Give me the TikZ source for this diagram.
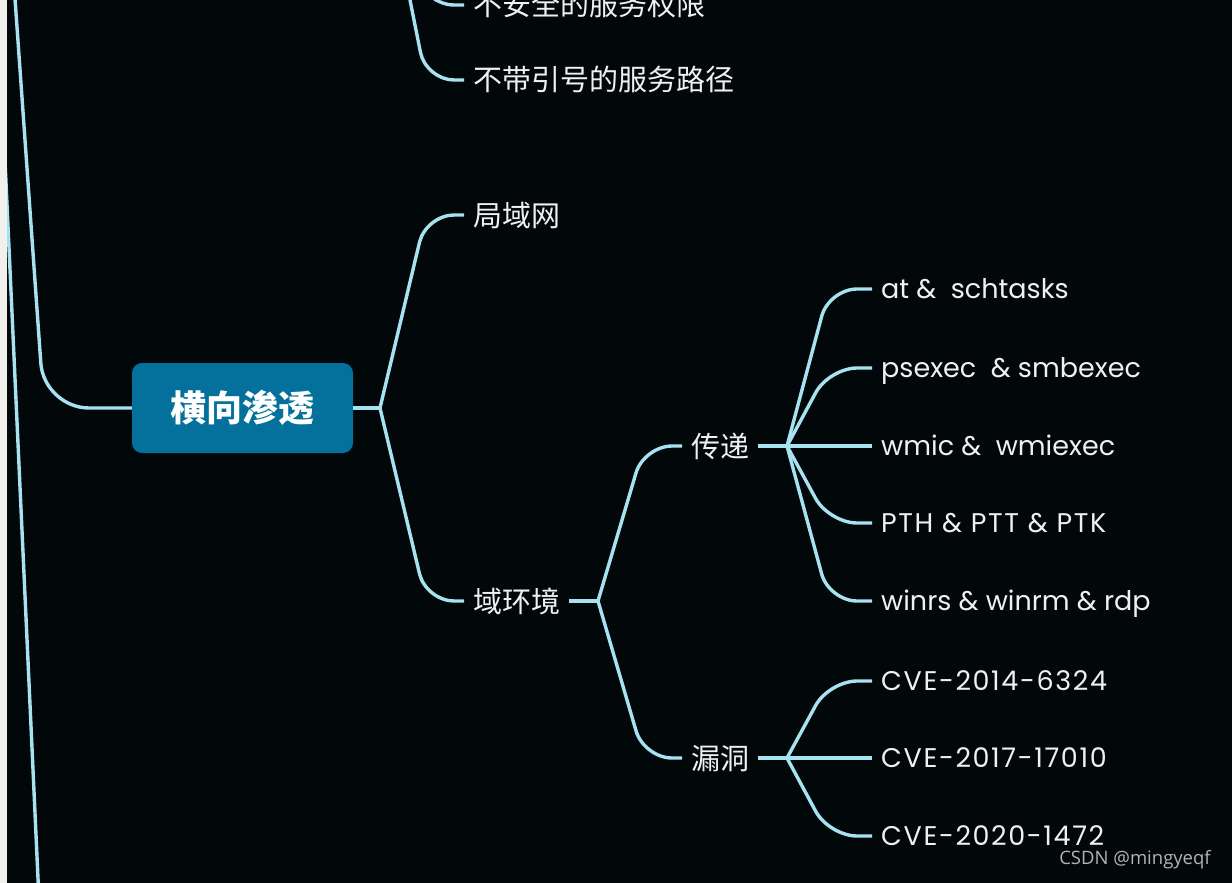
\documentclass[tikz,border=0pt]{standalone}
\usepackage{fontspec}
\setmainfont{Poppins}
\newfontfamily\capsfont[LetterSpace=6]{Poppins}
\newfontfamily\cjk{Noto Sans CJK SC}
\newfontfamily\wmfont{Open Sans}
\usetikzlibrary{calc}
\definecolor{bg}{HTML}{02070A}
\definecolor{strip}{HTML}{F1F0EC}
\definecolor{link}{HTML}{A6E2EF}
\definecolor{txt}{HTML}{F0F0F0}
\definecolor{rootfill}{HTML}{03719B}
\definecolor{wmcol}{HTML}{B4B4B4}
\begin{document}
\begin{tikzpicture}[x=1pt,y=-1pt,
  conn/.style={draw=link,line width=3.4pt,rounded corners=28pt},
  cjktext/.style={text=txt,font=\cjk\fontsize{29}{29}\selectfont,inner xsep=9pt,inner ysep=0pt,text height=24.3pt,text depth=2.3pt,anchor=west},
  leaftext/.style={text=txt,font=\fontsize{27}{27}\selectfont,inner xsep=9pt,inner ysep=0pt,text height=21pt,text depth=2pt,anchor=west},
  capleaf/.style={leaftext,font=\capsfont\fontsize{27}{27}\selectfont},
  rootbox/.style={fill=rootfill,rounded corners=10pt,minimum width=221pt,minimum height=90pt,text=white,font=\cjk\bfseries\fontsize{36}{36}\selectfont,inner sep=0pt},
  wm/.style={text=wmcol,font=\wmfont\fontsize{18.5}{18.5}\selectfont,inner sep=0pt}]
\useasboundingbox (0,0) rectangle (1232,883);
\clip (0,0) rectangle (1232,883);
\fill[bg] (0,0) rectangle (1232,883);

% nodes
\node[rootbox] (root) at (242.5,408) {横向渗透};
\node[cjktext] (p1) at (464,5) {不安全的服务权限};
\node[cjktext] (p2) at (464,80) {不带引号的服务路径};
\node[cjktext] (lan) at (464,215) {局域网};
\node[cjktext] (dom) at (464,601) {域环境};
\node[cjktext] (tr) at (682,446) {传递};
\node[cjktext] (vul) at (682,758) {漏洞};
\node[leaftext] (l1) at (872,289) {at \&\ \ schtasks};
\node[leaftext] (l2) at (872,368) {psexec\ \ \& smbexec};
\node[leaftext] (l3) at (872,446) {wmic \&\ \ wmiexec};
\node[capleaf] (l4) at (872,523) {PTH \& PTT \& PTK};
\node[leaftext] (l5) at (872,601) {winrs \& winrm \& rdp};
\node[capleaf] (c1) at (872,681) {CVE-2014-6324};
\node[capleaf] (c2) at (872,758) {CVE-2017-17010};
\node[capleaf] (c3) at (872,836) {CVE-2020-1472};
\node[wm] (mark) at (1135,860) {CSDN @mingyeqf};

% junctions and free ends
\coordinate (ja) at (-7,-100);
\coordinate (jaend) at (39,900);
\coordinate (jb) at (8,-100);
\coordinate (jt) at (380,-150);
\coordinate (j0) at (380,408);
\coordinate (j1) at (598,601);
\coordinate (j2) at (787,446);
\coordinate (j3) at (787,758);

% left trunks
\draw[conn] (ja) -- (jaend);
\fill[strip] (0,0) rectangle (7,883);
\draw[conn,rounded corners=45pt] (jb) -- ($(jb |- root.west)+(36,0)$) -- (root.west);

% top branch
\draw[conn] (jt) -- ($(jt |- p1.west)+(46,0)$) -- (p1.west);
\draw[conn] (jt) -- ($(jt |- p2.west)+(46,0)$) -- (p2.west);

% root children
\draw[conn] (root.east) -- (j0);
\draw[conn] (j0) -- ($(j0 |- lan.west)+(46,0)$) -- (lan.west);
\draw[conn] (j0) -- ($(j0 |- dom.west)+(46,0)$) -- (dom.west);

% domain children
\draw[conn] (dom.east) -- (j1);
\draw[conn] (j1) -- ($(j1 |- tr.west)+(46,0)$) -- (tr.west);
\draw[conn] (j1) -- ($(j1 |- vul.west)+(46,0)$) -- (vul.west);

% transfer leaves
\draw[conn] (tr.east) -- (j2);
\draw[conn] (j2) -- ($(j2 |- l1.west)+(42,0)$) -- (l1.west);
\draw[conn] (j2) -- ($(j2 |- l2.west)+(42,0)$) -- (l2.west);
\draw[conn] (j2) -- (l3.west);
\draw[conn] (j2) -- ($(j2 |- l4.west)+(42,0)$) -- (l4.west);
\draw[conn] (j2) -- ($(j2 |- l5.west)+(42,0)$) -- (l5.west);

% vulnerability leaves
\draw[conn] (vul.east) -- (j3);
\draw[conn] (j3) -- ($(j3 |- c1.west)+(42,0)$) -- (c1.west);
\draw[conn] (j3) -- (c2.west);
\draw[conn] (j3) -- ($(j3 |- c3.west)+(42,0)$) -- (c3.west);
\end{tikzpicture}
\end{document}
